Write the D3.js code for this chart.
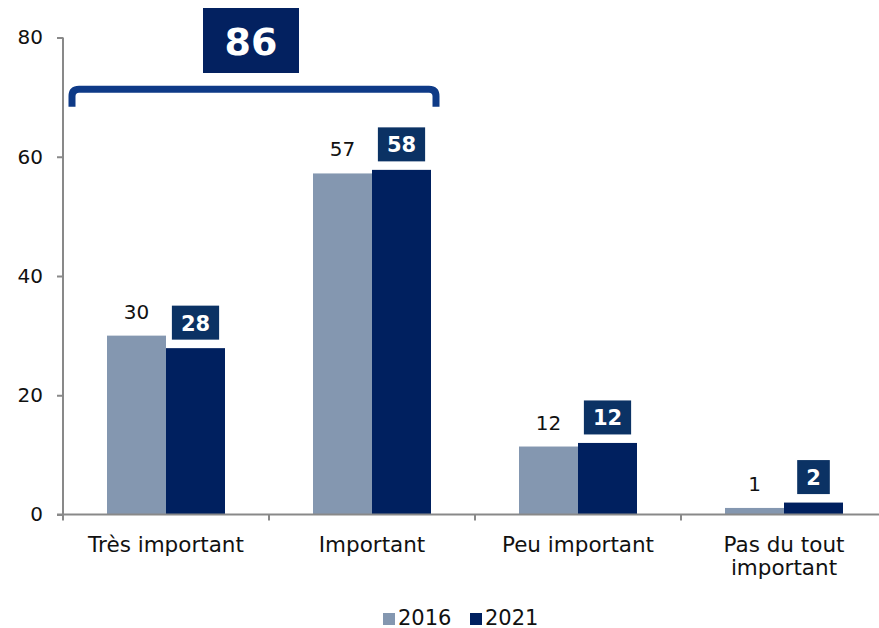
<!DOCTYPE html>
<html>
<head>
<meta charset="utf-8">
<script src="https://cdn.jsdelivr.net/npm/d3@7"></script>
<style>
  body { margin: 0; background: #fff; }
  svg { display: block; font-family: "DejaVu Sans", Verdana, sans-serif; }
</style>
</head>
<body>
<div id="chart"></div>
<script>
const categories = ["Très important", "Important", "Peu important", "Pas du tout important"];
const years = ["2016", "2021"];
const values2016 = [30.0, 57.2, 11.4, 1.1];
const values2021 = [27.9, 57.8, 12.0, 2.0];
const labels2016 = [30, 57, 12, 1];
const labels2021 = [28, 58, 12, 2];
const yTicks = [0, 20, 40, 60, 80];
const totalLabel = 86; // Très important + Important, 2021

const width = 879, height = 628;
const colors = { "2016": "#8497b0", "2021": "#00205f" };

const svg = d3.select("#chart")
  .append("svg")
    .attr("width", width)
    .attr("height", height);

const xScale = d3.scaleBand()
  .domain(categories)
  .range([63, 887])
  .paddingInner(0)
  .paddingOuter(0);

const bw = xScale.bandwidth();
const xYear = d3.scaleBand()
  .domain(years)
  .range([bw / 2 - 59, bw / 2 + 59]);

const yScale = d3.scaleLinear()
  .domain([0, 80])
  .range([514.5, 37.5]);

const data = categories.map((c, i) => ({
  cat: c,
  series: [
    { year: "2016", value: values2016[i], label: labels2016[i] },
    { year: "2021", value: values2021[i], label: labels2021[i] }
  ]
}));

// bars
const groups = svg.append("g")
    .attr("class", "bars")
  .selectAll("g")
  .data(data)
  .join("g")
    .attr("transform", d => `translate(${xScale(d.cat)},0)`);

groups.selectAll("rect")
  .data(d => d.series)
  .join("rect")
    .attr("x", d => xYear(d.year))
    .attr("y", d => yScale(d.value))
    .attr("width", xYear.bandwidth())
    .attr("height", d => yScale(0) - yScale(d.value))
    .attr("fill", d => colors[d.year]);

// 2016 labels: plain text
groups.append("text")
    .attr("x", xYear("2016") + xYear.bandwidth() / 2)
    .attr("y", d => yScale(d.series[0].value) - 17)
    .attr("text-anchor", "middle")
    .style("font-size", "20px")
    .attr("fill", "#111")
    .text(d => d.series[0].label);

// 2021 labels: white bold in a dark box
const boxed = groups.append("g")
    .attr("transform", d => `translate(${xYear("2021") + xYear.bandwidth() / 2}, ${yScale(d.series[1].value) - 8.5})`);
const boxRect = boxed.append("rect")
    .attr("fill", "#0b3264");
const boxText = boxed.append("text")
    .attr("text-anchor", "middle")
    .attr("y", -9)
    .attr("fill", "#fff")
    .style("font-size", "21px")
    .style("font-weight", "bold")
    .text(d => d.series[1].label);
boxRect.each(function(d, i) {
  const w = boxText.nodes()[i].getComputedTextLength() + 18;
  d3.select(this)
    .attr("x", -w / 2)
    .attr("y", -34)
    .attr("width", w)
    .attr("height", 34);
});

// axes
const axisColor = "#898989";
const leftAxis = d3.axisLeft(yScale)
  .tickValues(yTicks)
  .tickSize(6)
  .tickPadding(14);
const yAxisG = svg.append("g")
    .attr("class", "axis axis-y")
    .attr("transform", `translate(${xScale.range()[0]},0)`)
    .call(leftAxis);
yAxisG.select(".domain")
    .attr("d", `M0,${yScale(80)}V${yScale(0)}`);

const bottomAxisG = svg.append("g")
    .attr("class", "axis axis-x")
    .attr("transform", `translate(0,${yScale(0)})`);
bottomAxisG.append("path")
    .attr("d", `M${xScale.range()[0] - 6},0H${xScale.range()[1]}`);
bottomAxisG.selectAll("line")
  .data(categories.map(c => xScale(c)).concat([xScale.range()[1]]))
  .join("line")
    .attr("x1", d => d).attr("x2", d => d)
    .attr("y1", 0).attr("y2", 6);

svg.selectAll(".axis path, .axis line")
    .attr("stroke", axisColor)
    .attr("stroke-width", 2)
    .attr("fill", "none");
yAxisG.selectAll("text")
    .attr("fill", "#111")
    .style("font-size", "20px")
    .style("font-family", "'DejaVu Sans', Verdana, sans-serif");

// category labels (wrapped)
const catLabels = svg.append("g")
  .selectAll("text")
  .data(categories)
  .join("text")
    .attr("x", d => xScale(d) + bw / 2)
    .attr("y", 551.5)
    .attr("text-anchor", "middle")
    .attr("fill", "#111")
    .style("font-size", "21.5px");
catLabels.each(function(d) {
  const el = d3.select(this);
  const words = d.split(" ");
  let line = [];
  let tspan = el.append("tspan").attr("x", xScale(d) + bw / 2).attr("dy", 0);
  words.forEach(w => {
    line.push(w);
    tspan.text(line.join(" "));
    if (tspan.node().getComputedTextLength() > 175 && line.length > 1) {
      line.pop();
      tspan.text(line.join(" "));
      line = [w];
      tspan = el.append("tspan")
        .attr("x", xScale(d) + bw / 2)
        .attr("dy", 23.5)
        .text(w);
    }
  });
});

// bracket over the first two categories + total box
const bx0 = xScale(categories[0]) + 9;
const bx1 = xScale(categories[1]) + bw - 39;
const byTop = yScale(71.3);
const byEnd = yScale(68.4);
const r = 7;
svg.append("path")
    .attr("d", `M${bx0},${byEnd}V${byTop + r}Q${bx0},${byTop} ${bx0 + r},${byTop}H${bx1 - r}Q${bx1},${byTop} ${bx1},${byTop + r}V${byEnd}`)
    .attr("fill", "none")
    .attr("stroke", "#0e3a87")
    .attr("stroke-width", 7);

const totalG = svg.append("g")
    .attr("transform", `translate(${(bx0 + bx1) / 2 - 3},0)`);
totalG.append("rect")
    .attr("x", -48)
    .attr("y", 8)
    .attr("width", 96)
    .attr("height", 65)
    .attr("fill", "#032160");
totalG.append("text")
    .attr("text-anchor", "middle")
    .attr("y", 55)
    .attr("fill", "#fff")
    .style("font-size", "38px")
    .style("font-weight", "bold")
    .text(totalLabel);

// legend
const legend = svg.append("g")
    .attr("transform", "translate(383,0)");
const legendItems = legend.selectAll("g")
  .data(years)
  .join("g")
    .attr("transform", (d, i) => `translate(${i * 87},0)`);
legendItems.append("rect")
    .attr("x", 0)
    .attr("y", 613)
    .attr("width", 12)
    .attr("height", 12)
    .attr("fill", d => colors[d]);
legendItems.append("text")
    .attr("x", 15)
    .attr("y", 624.5)
    .attr("fill", "#111")
    .style("font-size", "21px")
    .text(d => d);
</script>
</body>
</html>
